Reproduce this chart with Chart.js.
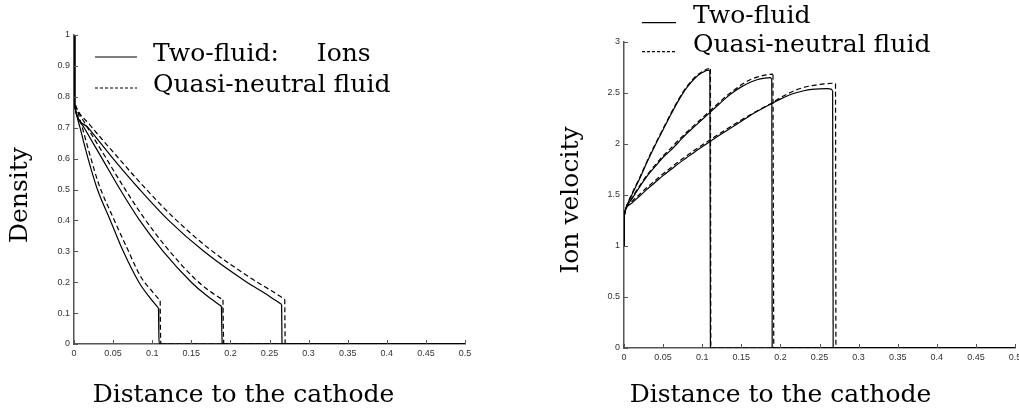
<!DOCTYPE html>
<html>
<head>
<meta charset="utf-8">
<script src="https://cdn.jsdelivr.net/npm/chart.js@4.4.0/dist/chart.umd.min.js"></script>
<style>
  html, body { margin: 0; padding: 0; background: #fff; overflow: hidden; }
  body { width: 1019px; height: 412px; position: relative; }
  canvas { position: absolute; top: 0; }
  #density { left: 0; }
  #velocity { left: 510px; }
</style>
</head>
<body>
<canvas id="density" width="510" height="412"></canvas>
<canvas id="velocity" width="520" height="412"></canvas>
<script>
// axis ranges and tick steps
const xRange = [0, 0.5];
const xStep = 0.05;
const densityRange = [0, 1];
const densityStep = 0.1;
const velocityRange = [0, 3];
const velocityStep = 0.5;

const densityLegend = ['Two-fluid: Ions', 'Quasi-neutral fluid'];
const velocityLegend = ['Two-fluid', 'Quasi-neutral fluid'];

// density, shock near 0.11
const densTwoX1 = [0, 0.001, 0.003, 0.0077, 0.018, 0.03, 0.0465, 0.063, 0.083, 0.097, 0.108, 0.1085, 0.109, 0.5];
const densTwoY1 = [1.0, 0.77, 0.745, 0.70, 0.60, 0.50, 0.40, 0.30, 0.20, 0.15, 0.116, 0.03, 0, 0];
const densQnX1 = [0, 0.001, 0.003, 0.009, 0.02, 0.032, 0.049, 0.067, 0.086, 0.1, 0.1102, 0.1106, 0.111, 0.5];
const densQnY1 = [0.8, 0.78, 0.765, 0.715, 0.615, 0.515, 0.415, 0.315, 0.215, 0.17, 0.14, 0.035, 0, 0];
// density, shock near 0.19
const densTwoX2 = [0, 0.001, 0.003, 0.013, 0.036, 0.059, 0.084, 0.114, 0.150, 0.168, 0.1885, 0.189, 0.1895, 0.5];
const densTwoY2 = [1.0, 0.77, 0.745, 0.70, 0.60, 0.50, 0.40, 0.30, 0.20, 0.16, 0.122, 0.045, 0, 0];
const densQnX2 = [0, 0.001, 0.003, 0.015, 0.039, 0.063, 0.089, 0.119, 0.155, 0.173, 0.1905, 0.191, 0.1915, 0.5];
const densQnY2 = [0.8, 0.78, 0.765, 0.71, 0.61, 0.51, 0.41, 0.31, 0.21, 0.172, 0.143, 0.04, 0, 0];
// density, shock near 0.27
const densTwoX3 = [0, 0.001, 0.003, 0.018, 0.05, 0.084, 0.121, 0.166, 0.221, 0.245, 0.2655, 0.266, 0.5];
const densTwoY3 = [1.0, 0.77, 0.745, 0.70, 0.60, 0.50, 0.40, 0.30, 0.20, 0.163, 0.128, 0, 0];
const densQnX3 = [0, 0.001, 0.003, 0.02, 0.054, 0.089, 0.127, 0.172, 0.228, 0.252, 0.2695, 0.27, 0.5];
const densQnY3 = [0.8, 0.78, 0.765, 0.71, 0.61, 0.51, 0.41, 0.31, 0.21, 0.173, 0.145, 0, 0];

// ion velocity, shock near 0.11
const velTwoX1 = [0, 0.0005, 0.002, 0.01, 0.02, 0.03, 0.04, 0.05, 0.06, 0.07, 0.08, 0.09, 0.1, 0.108, 0.1098, 0.1105, 0.5];
const velTwoY1 = [1.0, 1.3, 1.36, 1.50, 1.66, 1.83, 1.99, 2.14, 2.29, 2.43, 2.55, 2.64, 2.70, 2.725, 2.715, 0, 0];
const velQnX1 = [0, 0.002, 0.01, 0.02, 0.03, 0.04, 0.05, 0.06, 0.07, 0.08, 0.09, 0.1, 0.109, 0.1105, 0.111, 0.5];
const velQnY1 = [1.3, 1.36, 1.51, 1.67, 1.84, 2.00, 2.15, 2.30, 2.44, 2.56, 2.65, 2.71, 2.74, 2.735, 0, 0];
// ion velocity, shock near 0.19
const velTwoX2 = [0, 0.0005, 0.002, 0.01, 0.02, 0.03, 0.04, 0.05, 0.06, 0.07, 0.08, 0.09, 0.1, 0.11, 0.12, 0.13, 0.14, 0.15, 0.16, 0.17, 0.18, 0.187, 0.189, 0.1895, 0.5];
const velTwoY2 = [1.0, 1.3, 1.36, 1.46, 1.58, 1.69, 1.78, 1.87, 1.94, 2.02, 2.10, 2.17, 2.24, 2.31, 2.38, 2.45, 2.51, 2.56, 2.60, 2.63, 2.645, 2.65, 2.635, 0, 0];
const velQnX2 = [0, 0.002, 0.01, 0.02, 0.03, 0.04, 0.05, 0.06, 0.07, 0.08, 0.09, 0.1, 0.11, 0.12, 0.13, 0.14, 0.15, 0.16, 0.17, 0.18, 0.19, 0.1905, 0.1915, 0.5];
const velQnY2 = [1.3, 1.36, 1.47, 1.59, 1.70, 1.795, 1.885, 1.96, 2.04, 2.115, 2.185, 2.255, 2.325, 2.395, 2.465, 2.525, 2.58, 2.625, 2.655, 2.675, 2.685, 2.68, 0, 0];
// ion velocity, shock near 0.27
const velTwoX3 = [0, 0.0005, 0.002, 0.01, 0.02, 0.03, 0.04, 0.05, 0.06, 0.07, 0.08, 0.09, 0.1, 0.11, 0.12, 0.13, 0.14, 0.15, 0.16, 0.17, 0.18, 0.19, 0.2, 0.21, 0.22, 0.23, 0.24, 0.25, 0.26, 0.265, 0.2668, 0.2675, 0.5];
const velTwoY3 = [1.0, 1.3, 1.355, 1.42, 1.49, 1.56, 1.625, 1.69, 1.75, 1.81, 1.865, 1.92, 1.972, 2.024, 2.075, 2.125, 2.174, 2.222, 2.273, 2.318, 2.36, 2.40, 2.44, 2.475, 2.502, 2.522, 2.535, 2.541, 2.542, 2.538, 2.52, 0, 0];
const velQnX3 = [0, 0.002, 0.01, 0.02, 0.03, 0.04, 0.05, 0.06, 0.07, 0.08, 0.09, 0.1, 0.11, 0.12, 0.13, 0.14, 0.15, 0.16, 0.17, 0.18, 0.19, 0.2, 0.21, 0.22, 0.23, 0.24, 0.25, 0.26, 0.27, 0.2705, 0.271, 0.5];
const velQnY3 = [1.3, 1.36, 1.435, 1.507, 1.578, 1.643, 1.708, 1.768, 1.828, 1.883, 1.938, 1.99, 2.04, 2.09, 2.14, 2.188, 2.235, 2.28, 2.324, 2.366, 2.405, 2.455, 2.495, 2.53, 2.555, 2.572, 2.584, 2.592, 2.596, 2.59, 0, 0];

const axisColor = '#555';
const tickFont = { family: '"Liberation Sans", Arial, sans-serif', size: 9 };
const serifFont = '25px "DejaVu Serif", serif';
const solidDash = [];
const quasiDash = [5, 3];
const steepSlope = 60;

function piece(points, dash, smooth) {
    return {
        data: points,
        borderColor: '#000',
        borderWidth: 1.2,
        borderDash: dash,
        pointRadius: 0,
        fill: false,
        tension: 0,
        cubicInterpolationMode: smooth ? 'monotone' : 'default',
    };
}

// split a curve where it jumps (cathode edge, shock) so the smooth parts
// keep their shape and the jumps stay straight
function curve(xs, ys, dash) {
    const pieces = [];
    let run = [{ x: xs[0], y: ys[0] }];
    let steep = null;
    for (let i = 1; i < xs.length; i++) {
        const s = Math.abs((ys[i] - ys[i - 1]) / (xs[i] - xs[i - 1])) > steepSlope;
        if (steep !== null && s !== steep) {
            pieces.push(piece(run, dash, !steep));
            run = [{ x: xs[i - 1], y: ys[i - 1] }];
        }
        steep = s;
        run.push({ x: xs[i], y: ys[i] });
    }
    pieces.push(piece(run, dash, !steep));
    return pieces;
}

function tickLabel(value) {
    return String(+Number(value).toFixed(2));
}

// small ticks pointing into the plot
const innerTicks = {
    id: 'innerTicks',
    afterDatasetsDraw(chart) {
        const { ctx, scales: { x, y } } = chart;
        ctx.save();
        ctx.strokeStyle = axisColor;
        ctx.lineWidth = 1;
        ctx.beginPath();
        x.ticks.forEach(t => {
            const px = Math.round(x.getPixelForValue(t.value)) + 0.5;
            ctx.moveTo(px, y.bottom);
            ctx.lineTo(px, y.bottom - 4);
        });
        y.ticks.forEach(t => {
            const py = Math.round(y.getPixelForValue(t.value)) + 0.5;
            ctx.moveTo(x.left, py);
            ctx.lineTo(x.left + 4, py);
        });
        ctx.stroke();
        ctx.restore();
    }
};

const inlineLegend = {
    id: 'inlineLegend',
    afterDraw(chart, args, opts) {
        const ctx = chart.ctx;
        ctx.save();
        ctx.font = serifFont;
        ctx.fillStyle = '#000';
        ctx.strokeStyle = '#000';
        ctx.lineWidth = 1.2;
        ctx.textBaseline = 'alphabetic';
        opts.labels.forEach((label, i) => {
            const ly = opts.lineY + i * opts.rowGap;
            ctx.setLineDash(i === 0 ? solidDash : [3, 2]);
            ctx.beginPath();
            ctx.moveTo(opts.lineX0, ly);
            ctx.lineTo(opts.lineX1, ly);
            ctx.stroke();
            ctx.setLineDash([]);
            ctx.wordSpacing = (opts.wordSpacing && opts.wordSpacing[i]) || '0px';
            ctx.fillText(label, opts.textX, opts.textY + i * opts.rowGap);
        });
        ctx.restore();
    }
};

const captions = {
    id: 'captions',
    afterDraw(chart, args, opts) {
        const ctx = chart.ctx;
        ctx.save();
        ctx.font = serifFont;
        ctx.fillStyle = '#000';
        ctx.textAlign = 'center';
        ctx.textBaseline = 'alphabetic';
        opts.items.forEach(it => {
            ctx.save();
            ctx.translate(it.x, it.y);
            if (it.rotate) ctx.rotate(-Math.PI / 2);
            ctx.fillText(it.text, 0, 0);
            ctx.restore();
        });
        ctx.restore();
    }
};

function makeChart(canvasId, datasets, yRange, yStep, box) {
    const ctx = document.getElementById(canvasId);
    const config = {
        type: 'line',
        data: { datasets: datasets },
        options: {
            responsive: false,
            animation: false,
            devicePixelRatio: 1,
            layout: { padding: { left: 0, top: box.top, right: box.right, bottom: 0 } },
            scales: {
                x: {
                    type: 'linear',
                    min: xRange[0],
                    max: xRange[1],
                    grid: { display: false, drawTicks: false },
                    border: { display: true, color: axisColor, width: 1.5 },
                    ticks: {
                        stepSize: xStep,
                        autoSkip: false,
                        maxRotation: 0,
                        padding: 4,
                        color: '#333',
                        font: tickFont,
                        callback: tickLabel,
                    },
                    afterFit: scale => { scale.height = box.xHeight; },
                },
                y: {
                    type: 'linear',
                    min: yRange[0],
                    max: yRange[1],
                    grid: { display: false, drawTicks: false },
                    border: { display: true, color: axisColor, width: 1.5 },
                    ticks: {
                        stepSize: yStep,
                        autoSkip: false,
                        padding: 4,
                        color: '#333',
                        font: tickFont,
                        callback: tickLabel,
                    },
                    afterFit: scale => { scale.width = box.yWidth; },
                },
            },
            plugins: {
                legend: { display: false },
                tooltip: { enabled: false },
                inlineLegend: box.legend,
                captions: { items: box.captions },
            },
        },
        plugins: [innerTicks, inlineLegend, captions],
    };
    return new Chart(ctx, config);
}

makeChart('density', [
    ...curve(densTwoX1, densTwoY1, solidDash),
    ...curve(densQnX1, densQnY1, quasiDash),
    ...curve(densTwoX2, densTwoY2, solidDash),
    ...curve(densQnX2, densQnY2, quasiDash),
    ...curve(densTwoX3, densTwoY3, solidDash),
    ...curve(densQnX3, densQnY3, quasiDash),
], densityRange, densityStep, {
    top: 35, right: 45, yWidth: 74, xHeight: 68,
    legend: { labels: densityLegend, lineX0: 95, lineX1: 137, lineY: 57, textX: 153, textY: 61, rowGap: 31, wordSpacing: ['30px'] },
    captions: [
        { text: 'Distance to the cathode', x: 243.5, y: 401.5 },
        { text: 'Density', x: 27, y: 195, rotate: true },
    ],
});

makeChart('velocity', [
    ...curve(velTwoX1, velTwoY1, solidDash),
    ...curve(velQnX1, velQnY1, quasiDash),
    ...curve(velTwoX2, velTwoY2, solidDash),
    ...curve(velQnX2, velQnY2, quasiDash),
    ...curve(velTwoX3, velTwoY3, solidDash),
    ...curve(velQnX3, velQnY3, quasiDash),
], velocityRange, velocityStep, {
    top: 42, right: 15, yWidth: 114, xHeight: 64,
    legend: { labels: velocityLegend, lineX0: 132, lineX1: 166, lineY: 22.7, textX: 183, textY: 23, rowGap: 29 },
    captions: [
        { text: 'Distance to the cathode', x: 270.5, y: 401.5 },
        { text: 'Ion velocity', x: 68, y: 200, rotate: true },
    ],
});
</script>
</body>
</html>
